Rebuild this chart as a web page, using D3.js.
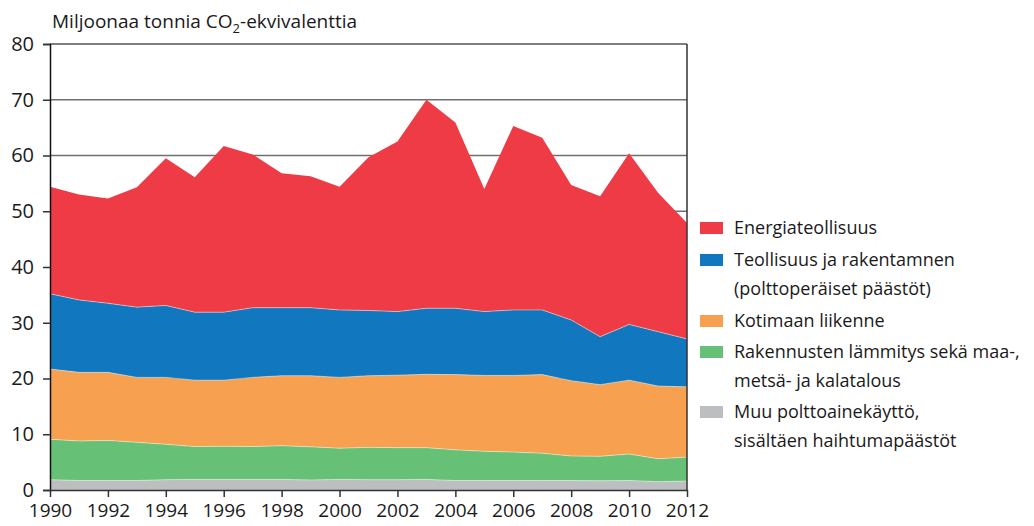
<!DOCTYPE html>
<html>
<head>
<meta charset="utf-8">
<script src="https://cdn.jsdelivr.net/npm/d3@7"></script>
<style>
  body { margin: 0; background: #fff; }
  svg text { font-family: "Open Sans", sans-serif; fill: #1a1a1a; }
</style>
</head>
<body>
<svg id="chart" width="1034" height="526"></svg>
<script>
// data (million tonnes CO2-eq)
const years = d3.range(1990, 2013);

const muu = [1.85, 1.7, 1.7, 1.7, 1.85, 1.9, 1.9, 1.9, 1.9, 1.8, 1.9, 1.85, 1.85, 1.9, 1.7, 1.7, 1.7, 1.7, 1.7, 1.65, 1.7, 1.5, 1.6];
// cumulative tops as read, converted to layer sizes below
const greenTop  = [9.1, 8.8, 8.9, 8.55, 8.2, 7.8, 7.85, 7.8, 7.95, 7.75, 7.5, 7.65, 7.6, 7.6, 7.2, 6.95, 6.8, 6.6, 6.1, 6.05, 6.45, 5.6, 5.9];
const orangeTop = [21.7, 21.1, 21.1, 20.2, 20.2, 19.7, 19.7, 20.2, 20.5, 20.5, 20.2, 20.5, 20.6, 20.75, 20.7, 20.55, 20.55, 20.7, 19.6, 18.9, 19.7, 18.65, 18.5];
const blueTop   = [35.2, 34.1, 33.5, 32.8, 33.1, 31.9, 31.9, 32.7, 32.7, 32.7, 32.3, 32.2, 32.0, 32.6, 32.6, 32.0, 32.3, 32.3, 30.5, 27.5, 29.7, 28.4, 27.1];
const total     = [54.4, 53.0, 52.3, 54.3, 59.5, 56.1, 61.7, 60.2, 56.8, 56.3, 54.4, 59.7, 62.5, 70.0, 65.9, 54.0, 65.3, 63.2, 54.7, 52.7, 60.4, 53.3, 47.9];

const keys = ["muu", "rakennus", "liikenne", "teollisuus", "energia"];
const labels = {
  energia: ["Energiateollisuus"],
  teollisuus: ["Teollisuus ja rakentamnen", "(polttoperäiset päästöt)"],
  liikenne: ["Kotimaan liikenne"],
  rakennus: ["Rakennusten lämmitys sekä maa-,", "metsä- ja kalatalous"],
  muu: ["Muu polttoainekäyttö,", "sisältäen haihtumapäästöt"]
};
const colors = {
  energia: "#ee3b45",
  teollisuus: "#1178bf",
  liikenne: "#f7a04f",
  rakennus: "#66c176",
  muu: "#bdbec0"
};
const yTicks = [0, 10, 20, 30, 40, 50, 60, 70, 80];
const xTicks = d3.range(1990, 2013, 2);

const rows = years.map(function(yr, i) {
  return {
    year: yr,
    muu: muu[i],
    rakennus: greenTop[i] - muu[i],
    liikenne: orangeTop[i] - greenTop[i],
    teollisuus: blueTop[i] - orangeTop[i],
    energia: total[i] - blueTop[i]
  };
});

const svg = d3.select("#chart");
const m = {left: 50, right: 687, top: 44, bottom: 490};

const x = d3.scaleLinear().domain([1990, 2012]).range([m.left, m.right]);
const y = d3.scaleLinear().domain([0, 80]).range([m.bottom, m.top]);

const series = d3.stack().keys(keys)(rows);

const area = d3.area()
  .x(function(d) { return x(d.data.year); })
  .y0(function(d) { return y(d[0]); })
  .y1(function(d) { return y(d[1]); });

// gridlines (behind areas)
svg.append("g")
  .selectAll("line")
  .data(yTicks.filter(function(t) { return t > 0; }))
  .join("line")
    .attr("x1", m.left).attr("x2", m.right)
    .attr("y1", function(d) { return y(d); })
    .attr("y2", function(d) { return y(d); })
    .attr("stroke", function(d) { return d === 80 ? "#555" : "#6f6f6f"; })
    .attr("stroke-width", 1.5);

svg.append("g")
  .selectAll("path")
  .data(series)
  .join("path")
    .attr("fill", function(d) { return colors[d.key]; })
    .attr("d", area);

// thin light seams between layers
svg.append("g")
  .selectAll("path")
  .data(series.slice(0, 4))
  .join("path")
    .attr("fill", "none")
    .attr("stroke", "#ffffff")
    .attr("stroke-opacity", 0.55)
    .attr("stroke-width", 0.8)
    .attr("d", d3.line()
      .x(function(d) { return x(d.data.year); })
      .y(function(d) { return y(d[1]); }));

// right frame
svg.append("line")
  .attr("x1", m.right).attr("x2", m.right)
  .attr("y1", m.top).attr("y2", m.bottom)
  .attr("stroke", "#333").attr("stroke-width", 1.5);

// y axis
const yAxis = d3.axisLeft(y).tickValues(yTicks).tickSize(7).tickPadding(9);
const gy = svg.append("g")
  .attr("transform", "translate(" + m.left + ",0)")
  .call(yAxis);
gy.select(".domain").attr("stroke", "#111").attr("stroke-width", 1.5);
gy.selectAll(".tick line").attr("stroke", "#333").attr("stroke-width", 1.5);
gy.selectAll("text").style("font-size", "20px").attr("fill", "#1a1a1a");

// x axis
const xAxis = d3.axisBottom(x).tickValues(xTicks).tickFormat(d3.format("d")).tickSize(7).tickSizeOuter(0).tickPadding(7);
const gx = svg.append("g")
  .attr("transform", "translate(0," + m.bottom + ")")
  .call(xAxis);
gx.select(".domain").attr("stroke", "#333").attr("stroke-width", 1.5);
gx.selectAll(".tick line").attr("stroke", "#333").attr("stroke-width", 1.5);
gx.selectAll("text").style("font-size", "19px").attr("fill", "#1a1a1a");

// unit title
const title = svg.append("text")
  .attr("x", 52).attr("y", 28)
  .style("font-size", "19px");
title.append("tspan").text("Miljoonaa tonnia CO");
title.append("tspan").attr("dy", 5).style("font-size", "13px").text("2");
title.append("tspan").attr("dy", -5).text("-ekvivalenttia");

// legend
const legendRows = [
  {key: "energia", y: 228},
  {key: "teollisuus", y: 260},
  {key: "liikenne", y: 321},
  {key: "rakennus", y: 352},
  {key: "muu", y: 412}
];
const lg = svg.append("g");
legendRows.forEach(function(r) {
  lg.append("rect")
    .attr("x", 700).attr("y", r.y - 6)
    .attr("width", 23).attr("height", 12)
    .attr("fill", colors[r.key]);
  labels[r.key].forEach(function(line, j) {
    lg.append("text")
      .attr("x", 734).attr("y", r.y + j * 29)
      .attr("dy", "0.35em")
      .style("font-size", "18px")
      .text(line);
  });
});
</script>
</body>
</html>
